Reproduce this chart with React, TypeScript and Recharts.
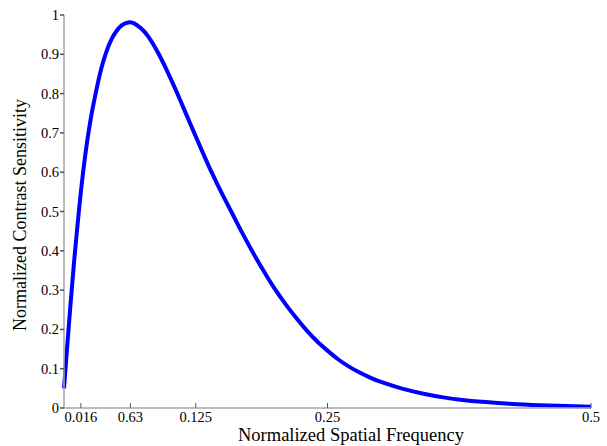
import React from 'react';
import { LineChart, Line, XAxis, YAxis } from 'recharts';

// Normalized spatial frequency (x) and contrast sensitivity (y)
const frequency = [
  0, 0.002, 0.004, 0.006, 0.008, 0.01, 0.013, 0.016, 0.02, 0.025, 0.03, 0.035, 0.04, 0.045, 0.05,
  0.055, 0.061, 0.067, 0.073, 0.08, 0.09, 0.1, 0.11, 0.12, 0.13, 0.14, 0.15, 0.16, 0.17, 0.18, 0.19,
  0.2, 0.21, 0.22, 0.23, 0.24, 0.25, 0.26, 0.27, 0.28, 0.29, 0.3, 0.32, 0.34, 0.36, 0.38, 0.4, 0.43,
  0.46, 0.5,
];
const sensitivity = [
  0.05, 0.12, 0.19, 0.258, 0.322, 0.385, 0.47, 0.55, 0.64, 0.73, 0.8, 0.86, 0.905, 0.938, 0.96,
  0.974, 0.981, 0.978, 0.966, 0.945, 0.9, 0.845, 0.785, 0.722, 0.66, 0.6, 0.545, 0.493, 0.441, 0.392,
  0.346, 0.303, 0.265, 0.23, 0.198, 0.17, 0.146, 0.124, 0.106, 0.091, 0.078, 0.067, 0.05, 0.037,
  0.027, 0.02, 0.015, 0.0095, 0.0062, 0.0035,
];

const xTicks = [0.016, 0.063, 0.125, 0.25, 0.5];
const xTickLabels = ['0.016', '0.63', '0.125', '0.25', '0.5'];
const yTicks = [0, 0.1, 0.2, 0.3, 0.4, 0.5, 0.6, 0.7, 0.8, 0.9, 1];

const data = frequency.map((f, i) => ({ f, s: sensitivity[i] }));

const FONT = '"Liberation Serif", "Times New Roman", serif';
const AXIS = '#a6a6a6';
const PLOT_BOTTOM = 446 - 38;

function XTick(props: any) {
  const { x, y, payload } = props;
  const i = xTicks.indexOf(payload.value);
  return (
    <g>
      <line x1={x} x2={x} y1={PLOT_BOTTOM} y2={PLOT_BOTTOM - 5} stroke="#555" strokeWidth={1} />
      <text x={x} y={y} dy="0.71em" textAnchor="middle" fill="#000" fontFamily={FONT} fontSize={14.5}>
        {i >= 0 ? xTickLabels[i] : payload.value}
      </text>
    </g>
  );
}

function YTick(props: any) {
  const { x, y, payload } = props;
  return (
    <text x={x} y={y} dy="0.35em" textAnchor="end" fill="#000" fontFamily={FONT} fontSize={14.5}>
      {String(Math.round(payload.value * 10) / 10)}
    </text>
  );
}

export default function App() {
  return (
    <div style={{ position: 'absolute', left: 0, top: 0, width: 607, height: 446, background: '#fff' }}>
      <LineChart width={607} height={446} data={data} margin={{ top: 15, right: 16, bottom: 0, left: 0 }}>
        <XAxis
          dataKey="f"
          type="number"
          domain={[0, 0.5]}
          ticks={xTicks}
          height={38}
          stroke={AXIS}
          strokeWidth={1.5}
          tickLine={false}
          tickSize={0}
          tickMargin={4}
          tick={<XTick />}
          interval={0}
          label={{
            content: () => (
              <text x={351} y={441} textAnchor="middle" fill="#000" fontFamily={FONT} fontSize={18.5}>
                Normalized Spatial Frequency
              </text>
            ),
          }}
        />
        <YAxis
          type="number"
          domain={[0, 1]}
          ticks={yTicks}
          width={64}
          stroke={AXIS}
          strokeWidth={1.5}
          tickSize={4}
          tickMargin={1}
          tickLine={{ stroke: '#555' }}
          interval={0}
          tick={<YTick />}
          label={{
            content: () => (
              <text
                x={26}
                y={215}
                transform="rotate(-90 26 215)"
                textAnchor="middle"
                fill="#000"
                fontFamily={FONT}
                fontSize={18}
              >
                Normalized Contrast Sensitivity
              </text>
            ),
          }}
        />
        <Line
          type="natural"
          dataKey="s"
          stroke="#0000ff"
          strokeWidth={4}
          dot={false}
          isAnimationActive={false}
        />
      </LineChart>
    </div>
  );
}
